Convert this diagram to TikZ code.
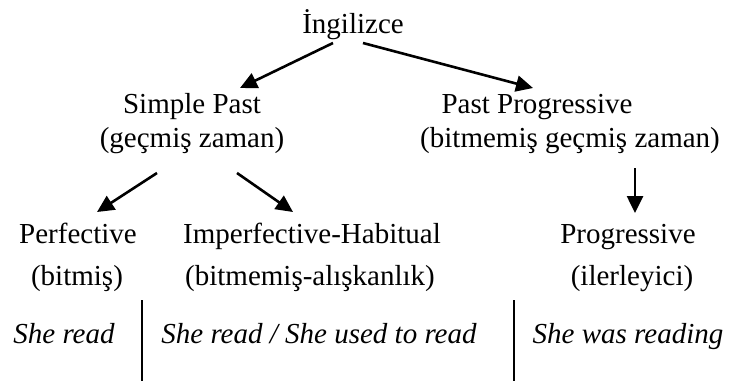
\documentclass[tikz,border=0pt]{standalone}
\usepackage{fontspec}
\setmainfont{Liberation Serif}
\usetikzlibrary{arrows.meta}
\begin{document}
\begin{tikzpicture}[x=1pt,y=-1pt,
  lbl/.style={inner sep=0pt,anchor=base,font=\fontsize{29}{34}\selectfont},
  ex/.style={lbl,font=\fontsize{29}{34}\selectfont\itshape},
  arr/.style={line width=2.6pt,-{Triangle[length=17pt,width=16pt]}},
  sep/.style={line width=1.8pt}]
\useasboundingbox (0,0) rectangle (730,381);

% root
\node[lbl] (ing) at (353,33) {İngilizce};

% second level
\node[lbl] (sp1) at (192,113) {Simple Past};
\node[lbl] (sp2) at (192,147) {(geçmiş zaman)};
\node[lbl] (pp1) at (537,113) {Past Progressive};
\node[lbl] (pp2) at (570,147) {(bitmemiş geçmiş zaman)};

% third level
\node[lbl] (perf)  at (78,243)  {Perfective};
\node[lbl] (perf2) at (77,285)  {(bitmiş)};
\node[lbl] (imp)   at (312,243) {Imperfective-Habitual};
\node[lbl] (imp2)  at (310,285) {(bitmemiş-alışkanlık)};
\node[lbl] (prog)  at (628,243) {Progressive};
\node[lbl] (prog2) at (632,285) {(ilerleyici)};

% examples
\node[ex] (e1) at (64,343)  {She read};
\node[ex] (e2) at (319,343) {She read / She used to read};
\node[ex] (e3) at (628,343) {She was reading};

% arrows
\draw[arr] ([shift={(-20,10)}]ing.base) -- ([shift={(48,-25)}]sp1.base);
\draw[arr] ([shift={(10,10)}]ing.base) -- ([shift={(-4,-25)}]pp1.base);
\draw[arr] ([shift={(-35,26)}]sp2.base) -- ([shift={(19,-31)}]perf.base);
\draw[arr] ([shift={(45,26)}]sp2.base) -- ([shift={(-19,-31)}]imp.base);
\draw[arr] ([shift={(65,21)}]pp2.base) -- ([shift={(7,-30)}]prog.base);

% separators between the examples
\coordinate (s1t) at (142,300);
\coordinate (s1b) at (142,381);
\coordinate (s2t) at (514,300);
\coordinate (s2b) at (514,381);
\draw[sep] (s1t) -- (s1b);
\draw[sep] (s2t) -- (s2b);
\end{tikzpicture}
\end{document}
